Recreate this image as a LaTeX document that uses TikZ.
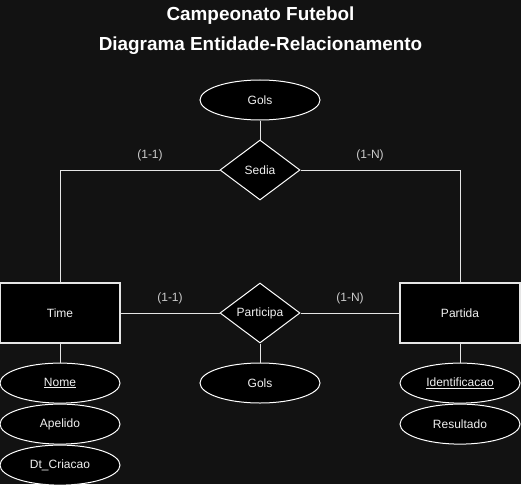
\documentclass[tikz,border=0pt]{standalone}
\usepackage{fontspec}
\setmainfont{Liberation Sans}
\usetikzlibrary{shapes.geometric,positioning}
\definecolor{bgdark}{RGB}{18,18,18}
\definecolor{textgray}{RGB}{240,240,240}
\tikzset{entity/.style={rectangle,fill=black,draw=white!90!black,line width=1.2pt,minimum width=120pt,minimum height=60pt,inner sep=0pt,text=textgray,font=\fontsize{12pt}{14pt}\selectfont},
         attrib/.style={ellipse,fill=black,draw=white,line width=1pt,minimum width=120pt,minimum height=40pt,inner sep=0pt,text=textgray,font=\fontsize{12pt}{14pt}\selectfont},
         relation/.style={diamond,aspect=1.333,fill=black,draw=white,line width=1pt,minimum width=80pt,minimum height=60pt,inner sep=0pt,text=textgray,font=\fontsize{12pt}{14pt}\selectfont},
         card label/.style={rectangle,draw=none,fill=none,text=textgray!85!black,font=\fontsize{12pt}{14pt}\selectfont},
         title/.style={rectangle,draw=none,anchor=base,text=white,font=\fontsize{18.9pt}{22pt}\selectfont\bfseries},
         link/.style={draw=white!90!black,line width=1pt},
}
\begin{document}
\begin{tikzpicture}[x=1pt,y=-1pt]
\fill[bgdark] (0,0) rectangle (521,484);
\useasboundingbox (0,0) rectangle (521,484);
% titulo
\node[title] (t1) at (260.5,21) {Campeonato Futebol};
\node[title] (t2) at (260.5,51) {Diagrama Entidade-Relacionamento};
% entidades e relacionamentos
\node[entity] (time) at (60,313) {Time};
\node[entity] (partida) at (460,313) {Partida};
\node[relation] (sedia) at (260,170) {Sedia};
\node[relation] (participa) at (260,313) {Participa};
% atributos
\node[attrib] (golsA) at (260,100) {Gols};
\node[attrib,below=19pt of participa] (golsB) {Gols};
\node[attrib,below=19pt of time] (nome) {\underline{Nome}};
\node[attrib,below=0pt of nome] (apelido) {Apelido};
\node[attrib,below=0pt of apelido] (criacao) {Dt\_Criacao};
\node[attrib,below=19pt of partida] (ident) {\underline{Identificacao}};
\node[attrib,below=0pt of ident] (result) {Resultado};
% ligacoes
\draw[link] (golsA) -- (sedia);
\draw[link] (sedia) -| (time);
\draw[link] (sedia) -| (partida);
\draw[link] (time) -- (participa);
\draw[link] (participa) -- (partida);
\draw[link] (participa) -- (golsB);
\draw[link] (time) -- (nome);
\draw[link] (partida) -- (ident);
% cardinalidades
\node[card label] (c1) at (150,155) {(1-1)};
\node[card label] (c2) at (370,155) {(1-N)};
\node[card label] (c3) at (170,298) {(1-1)};
\node[card label] (c4) at (350,298) {(1-N)};
\end{tikzpicture}
\end{document}
